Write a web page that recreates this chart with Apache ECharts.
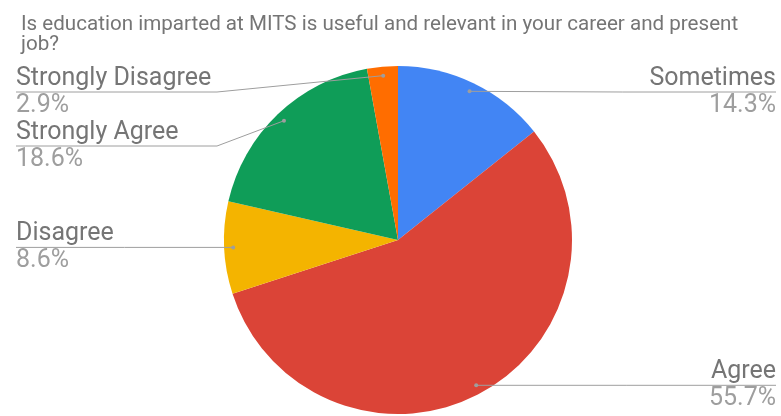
<!DOCTYPE html>
<html>
<head>
<meta charset="utf-8">
<script src="https://cdn.jsdelivr.net/npm/echarts@6/dist/echarts.min.js"></script>
<style>html,body{margin:0;padding:0;background:#fff}#c{width:781px;height:416px}</style>
</head>
<body>
<div id="c"></div>
<script>
const titleText = "Is education imparted at MITS is useful and relevant in your career and present\njob?";
const categories = ["Sometimes", "Agree", "Disagree", "Strongly Agree", "Strongly Disagree"];
const counts = [10, 39, 6, 13, 2];
const colors = ["#4285f4", "#db4437", "#f4b400", "#0f9d58", "#ff6d00"];

const total = counts.reduce((a, b) => a + b, 0);
const CX = 398, CY = 240, R = 174;
const LEFT_X = 16, RIGHT_X = 776, TOP_LINE = 92, GAP = 54;

// label line layout (Google-charts style stacking), derived from the data
function layoutLines() {
  const info = [];
  let acc = 0;
  counts.forEach((v, i) => {
    const mid = (acc + v / 2) / total * Math.PI * 2;
    acc += v;
    const r = R - 9;
    const sx = CX + Math.sin(mid) * r, sy = CY - Math.cos(mid) * r;
    info.push({i, sx, sy, left: sx < CX});
  });
  const res = {};
  [true, false].forEach(side => {
    const list = info.filter(d => d.left === side).sort((a, b) => a.sy - b.sy);
    let prev = -Infinity;
    list.forEach(d => {
      const y = Math.max(d.sy, prev + GAP, TOP_LINE);
      prev = y;
      const ex = side ? LEFT_X : RIGHT_X;
      const mid = Math.abs(y - d.sy) < 1 ? [(d.sx + ex) / 2, y] : [side ? CX - R - 7 : CX + R + 7, y];
      res[d.i] = {s: [d.sx, d.sy], y, left: side, pts: [[d.sx, d.sy], mid, [ex, y]]};
    });
  });
  return res;
}
const lines = layoutLines();

const chart = echarts.init(document.getElementById('c'), null, {renderer: 'canvas'});
chart.setOption({
  animation: false,
  title: {
    text: titleText, left: 16, top: 10,
    textStyle: {fontFamily: 'Roboto', fontSize: 20.6, fontWeight: 'normal', color: '#757575', lineHeight: 20}
  },
  series: [{
    type: 'pie',
    z: 2,
    center: [CX, CY],
    radius: R,
    startAngle: 90,
    clockwise: true,
    avoidLabelOverlap: false,
    data: categories.map((c, i) => ({name: c, value: counts[i], itemStyle: {color: colors[i]}})),
    label: {
      formatter: p => '{n|' + p.name + '}\n{p|' + (p.value / total * 100).toFixed(1) + '%}',
      alignTo: 'edge',
      edgeDistance: 16,
      rich: {
        n: {fontFamily: 'Roboto', fontSize: 25, color: '#757575', lineHeight: 27},
        p: {fontFamily: 'Roboto', fontSize: 25, color: '#9e9e9e', lineHeight: 27}
      }
    },
    labelLine: {show: false},
    labelLayout: function (params) {
      const L = lines[params.dataIndex];
      if (!L) return {};
      return {x: L.left ? LEFT_X : RIGHT_X, y: L.y, align: L.left ? 'left' : 'right', verticalAlign: 'middle'};
    }
  }, {
    type: 'custom',
    coordinateSystem: 'none',
    z: 5,
    silent: true,
    data: categories.map((c, i) => [i]),
    renderItem: function (params, api) {
      const L = lines[api.value(0)];
      return {
        type: 'group',
        children: [
          {type: 'polyline', shape: {points: L.pts}, style: {stroke: '#9e9e9e', lineWidth: 1, fill: null}},
          {type: 'circle', shape: {cx: L.s[0], cy: L.s[1], r: 2}, style: {fill: '#9e9e9e'}}
        ]
      };
    }
  }]
});
</script>
</body>
</html>
